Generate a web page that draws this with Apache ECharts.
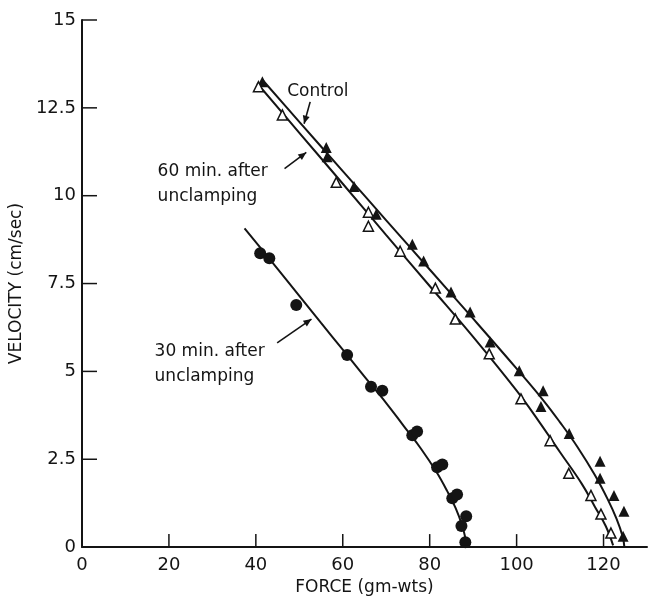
<!DOCTYPE html>
<html>
<head>
<meta charset="utf-8">
<script src="https://cdn.jsdelivr.net/npm/echarts@6/dist/echarts.min.js"></script>
<style>
html,body{margin:0;padding:0;background:#fff;}
#chart{width:655px;height:601px;}
</style>
</head>
<body>
<div id="chart"></div>
<script>
// Tick labels
const forceTicks = [0, 20, 40, 60, 80, 100, 120];
const velocityTicks = [0, 2.5, 5, 7.5, 10, 12.5, 15];

// Control (filled triangles)
const controlForce = [41.5, 56.2, 56.4, 62.6, 67.7, 76.0, 78.6, 84.9, 89.3, 93.9, 100.6, 106.1, 105.6, 112.1, 119.2, 119.2, 122.4, 124.7, 124.5];
const controlVel   = [13.24, 11.37, 11.11, 10.26, 9.47, 8.62, 8.14, 7.26, 6.69, 5.84, 5.02, 4.45, 4.0, 3.23, 2.44, 1.96, 1.47, 1.02, 0.31];

// 60 min. after unclamping (open triangles)
const min60Force = [40.6, 46.1, 58.5, 65.9, 65.9, 73.2, 81.3, 85.9, 93.7, 101.0, 107.7, 112.0, 117.1, 119.4, 121.7];
const min60Vel   = [13.1, 12.3, 10.38, 9.53, 9.13, 8.42, 7.37, 6.49, 5.5, 4.22, 3.03, 2.1, 1.47, 0.94, 0.40];

// 30 min. after unclamping (filled circles)
const min30Force = [41.0, 43.1, 49.3, 61.0, 66.5, 69.1, 76.0, 77.1, 81.7, 82.9, 85.2, 86.3, 88.4, 87.3, 88.2];
const min30Vel   = [8.36, 8.22, 6.89, 5.47, 4.56, 4.45, 3.18, 3.29, 2.27, 2.35, 1.39, 1.5, 0.88, 0.60, 0.14];

// Fitted curves
const controlCurveForce = [41.5, 50, 60, 70, 80, 90, 100, 106, 110, 114, 118, 121, 123, 124.4, 124.8];
const controlCurveVel   = [13.3, 12.1, 10.7, 9.3, 7.9, 6.5, 5.08, 4.2, 3.55, 2.85, 2.05, 1.35, 0.8, 0.3, 0];
const min60CurveForce = [40.3, 50, 60, 70, 80, 90, 100, 105, 110, 115, 118, 120.5, 122.2];
const min60CurveVel   = [13.2, 11.79, 10.34, 8.88, 7.43, 5.98, 4.45, 3.6, 2.7, 1.8, 1.15, 0.6, 0.05];
const min30CurveForce = [37.4, 45, 50, 55, 60, 65, 70, 74, 78, 81.5, 84, 86, 87.5, 88.4, 88.6];
const min30CurveVel   = [9.07, 7.92, 7.15, 6.38, 5.62, 4.85, 4.1, 3.45, 2.8, 2.15, 1.6, 1.1, 0.6, 0.15, 0];

const pairs = (xs, ys) => xs.map((x, i) => [x, ys[i]]);

const ink = '#141414';
const font = 'DejaVu Sans';

const chart = echarts.init(document.getElementById('chart'), null, {renderer: 'canvas'});

const option = {
  animation: false,
  backgroundColor: '#fff',
  grid: {left: 82, right: 8, top: 20, bottom: 52, containLabel: false},
  xAxis: {
    type: 'value',
    min: 0, max: 130, interval: 20,
    name: 'FORCE (gm-wts)',
    nameLocation: 'middle',
    nameGap: 28,
    nameTextStyle: {fontFamily: font, fontSize: 17, color: ink},
    axisLine: {show: true, lineStyle: {color: ink, width: 2}},
    axisTick: {show: false},
    axisLabel: {fontFamily: font, fontSize: 18, color: ink, margin: 9, customValues: forceTicks},
    splitLine: {show: false}
  },
  yAxis: {
    type: 'value',
    min: 0, max: 15, interval: 2.5,
    name: 'VELOCITY (cm/sec)',
    nameLocation: 'middle',
    nameGap: 47,
    nameTextStyle: {fontFamily: font, fontSize: 17, color: ink},
    axisLine: {show: true, lineStyle: {color: ink, width: 2}},
    axisTick: {show: false},
    axisLabel: {fontFamily: font, fontSize: 18, color: ink, margin: 6, customValues: velocityTicks},
    splitLine: {show: false}
  },
  series: [
    {type: 'line', data: pairs(controlCurveForce, controlCurveVel), smooth: 0.4, showSymbol: false, lineStyle: {color: ink, width: 2}, z: 2},
    {type: 'line', data: pairs(min60CurveForce, min60CurveVel), smooth: 0.4, showSymbol: false, lineStyle: {color: ink, width: 2}, z: 2},
    {type: 'line', data: pairs(min30CurveForce, min30CurveVel), smooth: 0.4, showSymbol: false, lineStyle: {color: ink, width: 2}, z: 2},
    {type: 'scatter', data: pairs(controlForce, controlVel), symbol: 'triangle', symbolSize: 11, itemStyle: {color: ink, opacity: 1}, z: 5},
    {type: 'scatter', data: pairs(min60Force, min60Vel), symbol: 'triangle', symbolSize: 10, itemStyle: {color: '#fff', borderColor: ink, borderWidth: 1.5, opacity: 1}, z: 5},
    {type: 'scatter', data: pairs(min30Force, min30Vel), symbol: 'circle', symbolSize: 12, itemStyle: {color: ink, opacity: 1}, z: 5}
  ]
};
chart.setOption(option);

// Annotation arrows and texts, plus inward axis ticks, placed in data coordinates
const annotations = [
  {text: 'Control', at: [47.2, 12.96], from: [52.5, 12.67], to: [51.1, 12.05]},
  {text: '60 min. after\nunclamping', at: [17.4, 10.33], from: [46.6, 10.77], to: [51.6, 11.23]},
  {text: '30 min. after\nunclamping', at: [16.7, 5.2], from: [44.9, 5.81], to: [52.8, 6.49]}
];

const graphics = [];
forceTicks.forEach(v => {
  const p = chart.convertToPixel({gridIndex: 0}, [v, 0]);
  if (v === 0) return;
  graphics.push({type: 'line', shape: {x1: p[0], y1: p[1], x2: p[0], y2: p[1] - 13}, style: {stroke: ink, lineWidth: 1.5}, z: 10});
});
velocityTicks.forEach(v => {
  const p = chart.convertToPixel({gridIndex: 0}, [0, v]);
  if (v === 0) return;
  graphics.push({type: 'line', shape: {x1: p[0], y1: p[1], x2: p[0] + 15, y2: p[1]}, style: {stroke: ink, lineWidth: 1.5}, z: 10});
});
annotations.forEach(a => {
  const p = chart.convertToPixel({gridIndex: 0}, a.at);
  graphics.push({
    type: 'text', x: p[0], y: p[1],
    style: {text: a.text, font: '17px "' + font + '"', fill: ink, textAlign: 'left', textVerticalAlign: 'middle', lineHeight: 25},
    z: 10
  });
  const f = chart.convertToPixel({gridIndex: 0}, a.from);
  const t = chart.convertToPixel({gridIndex: 0}, a.to);
  const ang = Math.atan2(t[1] - f[1], t[0] - f[0]);
  const L = 8, W = 3.5;
  graphics.push({
    type: 'line', shape: {x1: f[0], y1: f[1], x2: t[0], y2: t[1]},
    style: {stroke: ink, lineWidth: 1.6}, z: 10
  });
  const bx = t[0] - L * Math.cos(ang), by = t[1] - L * Math.sin(ang);
  graphics.push({
    type: 'polygon',
    shape: {points: [[t[0], t[1]], [bx - W * Math.sin(ang), by + W * Math.cos(ang)], [bx + W * Math.sin(ang), by - W * Math.cos(ang)]]},
    style: {fill: ink}, z: 10
  });
});
chart.setOption({graphic: graphics});
</script>
</body>
</html>
